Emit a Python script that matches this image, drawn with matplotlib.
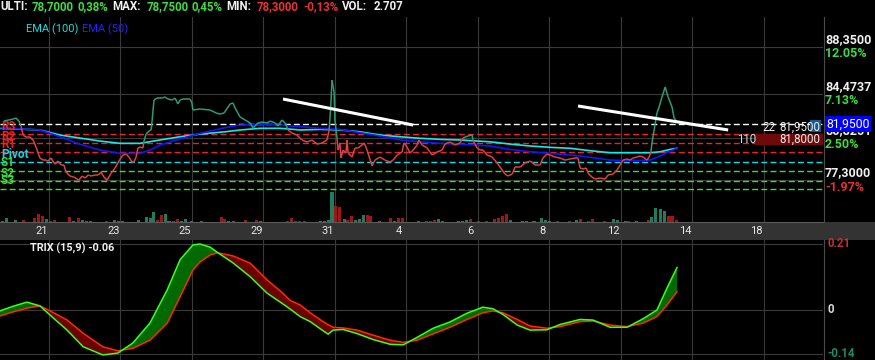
import numpy as np
import matplotlib
matplotlib.use('Agg')
import matplotlib.pyplot as plt
from matplotlib.collections import LineCollection
from matplotlib.patches import Rectangle
from matplotlib.lines import Line2D
from matplotlib.transforms import blended_transform_factory, offset_copy

plt.rcParams['font.family'] = ['Roboto', 'DejaVu Sans']

# ---------------- data (x in trading days, 0 = day "21") ----------------
day_ticks = [0, 2, 4, 6, 8, 10, 12, 14, 16, 18, 20]
day_labels = ['21', '23', '25', '29', '31', '4', '6', '8', '12', '14', '18']

price_t = [-1.25,-0.99,-0.91,-0.83,-0.77,-0.71,-0.63,-0.52,-0.43,-0.35,-0.24,-0.15,-0.07,-0.01,0.07,0.18,0.27,0.35,0.43,0.49,
           0.60,0.71,0.80,0.85,0.94,1.02,1.11,1.19,1.30,1.39,1.47,1.55,1.64,1.75,1.86,1.97,2.08,2.17,2.25,2.34,
           2.39,2.45,2.50,2.56,2.64,2.67,2.73,2.81,2.87,2.90,2.95,3.04,3.18,3.26,3.34,3.46,3.54,3.62,3.68,3.76,
           3.96,4.01,4.04,4.24,4.52,4.69,4.80,4.91,5.08,5.16,5.22,5.36,5.50,5.64,5.72,5.86,5.97,6.11,6.20,6.34,
           6.42,6.53,6.62,6.70,6.81,6.95,7.09,7.23,7.37,7.51,7.65,7.79,7.85,7.90,7.93,7.99,8.01,8.07,8.10,8.15,
           8.18,8.24,8.32,8.35,8.38,8.49,8.57,8.66,8.77,8.83,8.91,9.05,9.13,9.27,9.41,9.55,9.64,9.75,9.89,9.94,
           10.03,10.11,10.20,10.31,10.36,10.45,10.59,10.73,10.87,11.01,11.09,11.23,11.37,11.51,11.59,11.73,11.85,11.87,11.99,12.07,
           12.15,12.27,12.41,12.55,12.69,12.77,12.85,12.97,13.05,13.19,13.33,13.47,13.55,13.61,13.75,13.83,13.94,14.03,14.17,14.31,
           14.45,14.59,14.73,14.81,14.87,14.95,15.04,15.09,15.20,15.29,15.43,15.57,15.65,15.79,15.90,15.99,16.07,16.18,16.27,16.35,
           16.46,16.55,16.63,16.74,16.80,16.85,16.88,16.94,17.02,17.08,17.16,17.25,17.33,17.44,17.50,17.58]
price_v = [82.20,82.37,82.45,82.20,81.79,81.04,80.87,80.87,80.63,80.04,79.13,78.96,78.96,78.88,79.13,78.63,78.88,78.55,78.55,77.97,
           77.64,77.55,77.39,77.30,77.64,77.47,77.72,77.64,77.72,77.72,77.97,77.55,77.30,77.88,78.30,78.88,79.38,79.46,79.21,78.80,
           78.80,79.21,79.96,80.04,79.96,80.54,81.12,81.37,81.46,82.29,83.95,84.11,84.11,84.20,84.03,83.95,84.11,83.62,83.95,84.03,
           84.03,83.70,83.12,83.20,83.12,82.87,82.78,82.87,83.62,83.70,83.28,82.53,82.29,82.04,81.62,82.04,82.12,82.04,82.20,82.04,
           81.79,82.29,82.04,81.46,81.21,81.04,80.63,80.46,80.63,80.29,80.38,80.63,81.46,83.70,85.61,84.53,82.29,80.79,79.79,80.38,
           79.13,79.79,79.55,80.63,79.55,79.21,79.96,79.96,80.21,80.38,79.79,78.47,78.96,79.21,78.96,78.80,78.96,79.38,79.63,80.38,
           80.04,79.55,79.79,80.21,80.63,80.21,79.96,79.38,79.63,79.79,80.29,80.46,80.21,80.38,80.79,80.96,81.04,80.63,79.96,79.79,
           79.79,79.38,79.21,78.72,78.13,77.80,77.64,77.80,78.38,78.38,78.72,78.88,78.72,78.55,78.55,79.13,79.46,79.38,79.21,79.13,
           78.96,79.05,79.13,79.13,78.30,78.22,78.30,77.88,77.55,77.39,77.47,77.39,77.72,77.80,78.13,78.55,78.96,79.05,78.96,79.13,
           79.21,79.30,79.21,78.96,79.21,79.63,80.38,81.46,82.87,83.37,84.20,85.03,84.20,83.37,82.45,82.12]

ema100_t = [-1.36,-0.24,0.32,0.88,1.44,2.00,2.56,3.12,3.68,4.24,4.94,5.36,5.92,6.48,7.04,7.59,8.15,8.71,9.27,9.83,
            10.39,10.95,11.51,12.35,12.91,13.47,14.03,14.59,15.15,15.71,16.27,16.83,17.11,17.39,17.58]
ema100_v = [81.60,81.46,81.04,80.79,80.54,80.35,80.35,80.63,80.90,81.12,81.31,81.46,81.60,81.60,81.46,81.51,81.46,81.31,81.04,80.90,
            80.77,80.68,80.63,80.48,80.29,80.13,80.02,79.94,79.74,79.57,79.57,79.57,79.65,79.85,79.94]
ema50_t = [-1.36,-0.24,0.32,0.88,1.44,2.00,2.56,2.84,3.12,3.68,4.24,4.94,5.36,5.92,6.48,7.04,7.59,8.15,8.71,9.27,
           9.83,10.39,10.95,11.51,12.35,12.91,13.47,14.03,14.59,15.15,15.71,16.27,16.83,17.11,17.39,17.58]
ema50_v = [81.65,81.46,80.90,80.27,79.79,79.52,79.52,79.79,80.21,80.71,81.18,81.65,81.87,81.93,81.87,81.73,81.60,81.51,81.23,80.96,
           80.63,80.48,80.35,80.29,80.13,79.85,79.65,79.52,79.38,79.19,78.96,78.91,78.96,79.30,79.71,79.94]

pivot_names = ['R3', 'R2', 'R1', 'Pivot', 'S1', 'S2', 'S3']
pivot_vals = [81.12, 80.38, 79.60, 78.77, 78.09, 77.26, 76.53]
last_price = 81.95

trend1_t = [6.56, 10.20]
trend1_v = [84.03, 81.87]
trend2_t = [14.81, 19.01]
trend2_v = [83.45, 81.46]

price_ticks = [88.35, 84.4737, 80.8251, 77.30]
price_tick_labels = ['88,3500', '84,4737', '80,8251', '77,3000']
pct_labels = ['12.05%', '7.13%', '2.50%', '-1.97%']

vol_t = [-1.28,-1.17,-0.93,-0.70,-0.39,-0.28,-0.17,-0.06,0.06,0.17,0.60,0.70,0.83,0.94,1.06,1.17,1.61,1.84,1.95,2.06,
         2.51,2.73,2.84,2.95,3.06,3.16,3.28,3.37,3.50,3.61,3.72,3.83,4.01,4.28,4.83,4.93,5.04,5.17,5.51,5.81,
         5.92,6.68,6.79,6.92,7.03,7.15,7.60,7.71,7.82,7.93,8.04,8.15,8.27,8.37,8.48,8.59,8.70,8.81,8.91,9.02,
         9.26,9.57,9.68,9.80,9.90,10.35,10.58,10.69,10.80,10.91,11.02,11.46,11.57,11.68,11.80,12.02,12.25,12.47,12.58,12.69,
         12.80,12.91,13.25,13.36,13.58,13.78,13.91,14.02,14.24,14.57,14.78,14.89,15.11,15.22,15.56,15.80,15.91,16.13,16.23,16.45,
         16.77,16.88,16.98,17.11,17.22,17.33,17.44,17.56]
vol_k = [3,12,5,6,12,24,18,8,4,6,15,4,12,6,3,3,3,5,3,3,
         5,15,12,30,6,22,24,3,3,9,3,9,3,2,15,8,3,3,6,6,
         3,3,12,3,3,3,3,3,6,90,48,44,8,6,18,5,9,21,22,18,
         3,12,3,12,12,3,3,3,6,9,3,3,3,6,9,3,3,9,12,18,
         24,6,3,3,3,12,6,3,3,3,6,9,3,9,3,9,6,3,3,3,
         6,15,42,38,33,18,18,6]
vol_dir = ("gggrrrrgrr" "rgrgggrggg" "ggggrrggrr" "ggggrrggrr" "grrrrrgggg"
           "rrgrrgggrr" "grgrrgrrrg" "ggggrrrrrr" "rgggggggrr" "grrrrgggrg" "rggggrrr")

trix_t = [-1.36,-0.99,-0.60,-0.24,0.13,0.52,0.97,1.52,1.94,2.36,2.84,3.32,3.68,4.04,4.24,4.52,4.74,5.16,5.64,6.11,
          6.56,6.76,7.04,7.32,7.68,7.82,7.96,8.24,8.63,9.08,9.55,9.92,10.31,10.76,11.23,11.71,12.15,12.43,12.71,13.11,
          13.47,13.94,14.31,14.87,15.23,15.71,16.18,16.63,17.02,17.30,17.58]
trix_v = [-0.003,0.012,0.025,0.013,-0.025,-0.064,-0.117,-0.143,-0.137,-0.105,-0.041,0.064,0.160,0.207,0.210,0.200,0.182,0.150,0.106,0.054,
          0.019,0.003,-0.021,-0.037,-0.066,-0.077,-0.064,-0.062,-0.075,-0.094,-0.109,-0.111,-0.087,-0.058,-0.038,-0.010,0.009,0.004,-0.014,-0.048,
          -0.064,-0.063,-0.046,-0.030,-0.032,-0.055,-0.055,-0.028,0.000,0.070,0.135]
trix_sig = [-0.019,-0.006,0.006,0.013,-0.008,-0.032,-0.074,-0.117,-0.130,-0.122,-0.096,-0.042,0.042,0.127,0.153,0.175,0.182,0.172,0.149,0.096,
            0.053,0.030,0.016,-0.009,-0.037,-0.047,-0.055,-0.057,-0.064,-0.080,-0.096,-0.103,-0.096,-0.076,-0.055,-0.030,-0.009,-0.003,-0.009,-0.030,
            -0.051,-0.058,-0.053,-0.037,-0.035,-0.048,-0.053,-0.042,-0.021,0.016,0.058]
trix_ticks = [0.21, 0.0, -0.14]
trix_tick_labels = ['0.21', '0', '-0.14']

# ---------------- style ----------------
W, H = 875, 360
BG = '#000000'
GRID = '#3a3a3a'
GREEN_TXT = '#3fdc3f'
RED_TXT = '#e83232'
WHITE = '#f0f0f0'
LINE_GREEN = '#2a9d72'
LINE_RED = '#e04040'
XMIN, XMAX = -1.357, 21.664

fig = plt.figure(figsize=(W / 100, H / 100), dpi=100, facecolor=BG)


def px_axes(x0, y0, x1, y1):
    return fig.add_axes([x0 / W, 1 - y1 / H, (x1 - x0) / W, (y1 - y0) / H])


def ftxt(x, y, s, color, size, weight='normal', ha='left', **kw):
    fig.text(x / W, 1 - y / H, s, color=color, fontsize=size, fontweight=weight,
             ha=ha, va='center', **kw)


# date band
fig.add_artist(Rectangle((0, 1 - 240 / H), 1, 18 / H, transform=fig.transFigure,
                         facecolor='#333333', edgecolor='none', zorder=0))

# ---------------- volume axes (behind price) ----------------
axv = px_axes(0, 17, 823, 222)
axv.set_facecolor(BG)
axv.set_xlim(XMIN, XMAX)
axv.set_ylim(0, 615)
axv.axis('off')
for d in day_ticks:
    axv.axvline(d, color=GRID, lw=0.8, zorder=0)
vcols = ['#1d7d5e' if c == 'g' else '#a01616' for c in vol_dir]
axv.bar(vol_t, vol_k, width=0.085, color=vcols, zorder=2)

# ---------------- price axes ----------------
ax = px_axes(0, 17, 823, 222)
ax.set_facecolor('none')
ax.set_xlim(XMIN, XMAX)
ax.set_ylim(73.82, 90.84)
ax.axis('off')
for v in price_ticks:
    ax.axhline(v, color=GRID, lw=0.8, zorder=0)

dash = (0, (4.3, 2.3))
ax.axhline(last_price, color='white', lw=1.0, linestyle=dash, zorder=1)
pcol = {'R': '#ee2222', 'P': '#10d8e8', 'S': '#33e033'}
for name, v in zip(pivot_names, pivot_vals):
    ax.axhline(v, color=pcol[name[0]], lw=1.0, linestyle=dash, zorder=1)

ax.plot(ema100_t, ema100_v, color='#18e8e8', lw=1.2, zorder=3)
ax.plot(ema50_t, ema50_v, color='#1414ff', lw=1.2, zorder=3)

pt = np.array(price_t)
pv = np.array(price_v)
ema_at = np.interp(pt, ema100_t, ema100_v)
segs = np.stack([np.column_stack([pt[:-1], pv[:-1]]), np.column_stack([pt[1:], pv[1:]])], axis=1)
up = (pv[:-1] + pv[1:]) / 2 > (ema_at[:-1] + ema_at[1:]) / 2
lc = LineCollection(segs, colors=np.where(up, LINE_GREEN, LINE_RED), linewidths=1.1, zorder=4)
ax.add_collection(lc)

ax.plot(trend1_t, trend1_v, color='white', lw=2.2, solid_capstyle='butt', zorder=5)
ax.plot(trend2_t, trend2_v, color='white', lw=2.2, solid_capstyle='butt', zorder=5)

# right price labels
bt = blended_transform_factory(ax.transAxes, ax.transData)
up_t = offset_copy(bt, fig=fig, y=7, units='dots')
dn_t = offset_copy(bt, fig=fig, y=-7, units='dots')
for v, lab, pct in zip(price_ticks, price_tick_labels, pct_labels):
    ax.text(1.0025, v, lab, transform=up_t, color=WHITE, fontsize=9.0, fontweight='bold',
            ha='left', va='center', clip_on=False)
    ax.text(1.0025, v, pct, transform=dn_t, color=RED_TXT if pct.startswith('-') else GREEN_TXT,
            fontsize=9.0, fontweight='bold', ha='left', va='center', clip_on=False)
ax.text(1.0035, last_price, '81,9500', transform=bt, color='white', fontsize=8.8,
        ha='left', va='center', clip_on=False, zorder=10,
        bbox=dict(boxstyle='square,pad=0.12', facecolor='#0000ff', edgecolor='none'))

# order labels near the right edge (boxes drawn inside the price axes, below their texts)
ax.add_patch(Rectangle((755 / W, 1 - 145 / H), 68 / W, 11 / H, transform=fig.transFigure,
                       facecolor='#6e0a0a', edgecolor='none', zorder=6, clip_on=False))
ax.add_patch(Rectangle((810 / W, 1 - 132 / H), 11 / W, 12 / H, transform=fig.transFigure,
                       facecolor='#145a8c', edgecolor='none', zorder=6, clip_on=False))
dn_small = offset_copy(bt, fig=fig, y=-3.5, units='dots')
dn_box = offset_copy(bt, fig=fig, y=-15.5, units='dots')
ax.text(0.927, last_price, '22', transform=dn_small, color=WHITE, fontsize=8.3, ha='left', va='center', zorder=8)
ax.text(0.9965, last_price, '81,9500', transform=dn_small, color=WHITE, fontsize=8.3, ha='right', va='center', zorder=8)
ax.text(0.8955, last_price, '110', transform=dn_box, color='#dddddd', fontsize=8.3, ha='left', va='center', zorder=8)
ax.text(0.9965, last_price, '81,8000', transform=dn_box, color=WHITE, fontsize=8.3, ha='right', va='center', zorder=8)

# pivot labels (left)
for name, yy in zip(pivot_names, [126, 136, 144.5, 155, 163, 173.5, 181]):
    ftxt(1, yy, name, pcol[name[0]], 8.6, weight='bold', zorder=6)

# header
hdr = [(0, 'ULTI:', WHITE), (32, '78,7000', GREEN_TXT), (77, '0,38%', GREEN_TXT),
       (112, 'MAX:', WHITE), (147, '78,7500', GREEN_TXT), (192, '0,45%', GREEN_TXT),
       (226, 'MIN:', WHITE), (257, '78,3000', RED_TXT), (303, '-0,13%', RED_TXT),
       (342, 'VOL:', WHITE), (374, '2.707', WHITE)]
for x, s, c in hdr:
    ftxt(x, 7, s, c, 8.3, weight='bold')
ftxt(26, 29, 'EMA (100)', '#14e0e0', 8.0)
ftxt(82, 29, 'EMA (50)', '#2222ff', 8.0)

# baseline and right border
fig.add_artist(Line2D([0, 823 / W], [1 - 222 / H] * 2, transform=fig.transFigure, color='#5a5a5a', lw=0.8))
fig.add_artist(Line2D([823.5 / W] * 2, [1 - 222 / H, 1 - 17 / H], transform=fig.transFigure, color='#4a4a4a', lw=0.8))
fig.add_artist(Line2D([823.5 / W] * 2, [0, 1 - 240 / H], transform=fig.transFigure, color='#4a4a4a', lw=0.8))

# date labels in the band
bx = blended_transform_factory(ax.transData, fig.transFigure)
for d, lab in zip(day_ticks, day_labels):
    ax.text(d - 0.19, 1 - 231 / H, lab, transform=bx, color='#e8e8e8', fontsize=8.0,
            ha='center', va='center', clip_on=False)

# ---------------- TRIX axes ----------------
axt = px_axes(0, 240, 823, 360)
axt.set_facecolor(BG)
axt.set_xlim(XMIN, XMAX)
axt.set_ylim(-0.1591, 0.2227)
axt.axis('off')
for d in day_ticks:
    axt.axvline(d, color=GRID, lw=0.8, zorder=0)
for v in trix_ticks:
    axt.axhline(v, color=GRID, lw=0.8, zorder=0)
tt = np.array(trix_t)
tv = np.array(trix_v)
ts = np.array(trix_sig)
axt.fill_between(tt, tv, ts, where=tv >= ts, interpolate=True, color='#006a00', lw=0, zorder=1)
axt.fill_between(tt, tv, ts, where=tv < ts, interpolate=True, color='#6a0000', lw=0, zorder=1)
axt.plot(tt, ts, color='#ff2a00', lw=1.1, zorder=2)
axt.plot(tt, tv, color='#3cff1a', lw=1.1, zorder=3)
bt2 = blended_transform_factory(axt.transAxes, axt.transData)
tcols = ['#c43030', '#d8d8d8', '#1f8a6a']
for v, lab, c in zip(trix_ticks, trix_tick_labels, tcols):
    axt.text(1.005, v, lab, transform=bt2, color=c, fontsize=8.3, fontweight='bold',
             ha='left', va='center', clip_on=False)
ftxt(30, 248, 'TRIX (15,9) -0.06', WHITE, 7.8, weight='bold')

fig.savefig('out.png', dpi=100, facecolor=BG)
